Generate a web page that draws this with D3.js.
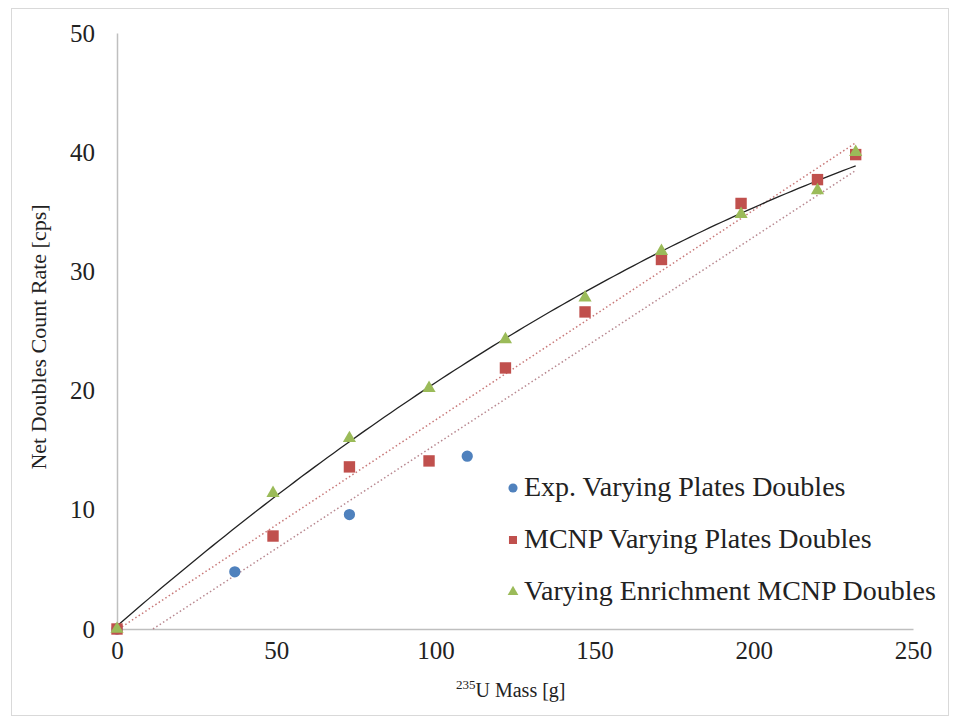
<!DOCTYPE html>
<html>
<head>
<meta charset="utf-8">
<script src="https://cdn.jsdelivr.net/npm/d3@7/dist/d3.min.js"></script>
<style>
  body { margin: 0; background: #fff; }
  svg text { font-family: "Liberation Serif", "Times New Roman", Times, "DejaVu Serif", serif; fill: #222; }
</style>
</head>
<body>
<svg id="chart" width="964" height="720"></svg>
<script>
// ---- data ----
const xTicks = [0, 50, 100, 150, 200, 250];
const yTicks = [0, 10, 20, 30, 40, 50];

const expMass   = [0, 37, 73, 110];
const expRate   = [0, 4.8, 9.6, 14.5];

const mcnpMass  = [0, 49, 73, 98, 122, 147, 171, 196, 220, 232];
const mcnpRate  = [0, 7.8, 13.6, 14.1, 21.9, 26.6, 31.0, 35.7, 37.7, 39.8];

const enrMass   = [0, 49, 73, 98, 122, 147, 171, 196, 220, 232];
const enrRate   = [0, 11.4, 16.0, 20.2, 24.3, 27.8, 31.7, 34.8, 36.8, 40.0];

// trendlines as shown in the picture: [intercept, slope, quadratic]
const polyTrend   = [0.25, 0.2327, -0.0002858];
const upperTrend  = [-0.09, 0.1762];
const lowerTrend  = [-1.97, 0.1743];
const trendXMax   = 232;

const legendLabels = ["Exp. Varying Plates Doubles", "MCNP Varying Plates Doubles", "Varying Enrichment MCNP Doubles"];
const colors = ["#4F81BD", "#C0504D", "#9BBB59"];

// ---- drawing ----
const FONT = "'Liberation Serif', 'Times New Roman', Times, 'DejaVu Serif', serif";
const svg = d3.select("#chart");
const x = d3.scaleLinear().domain([0, 250]).range([117, 913]);
const y = d3.scaleLinear().domain([0, 50]).range([629, 33]);

// outer border
svg.append("rect").attr("x", 11.5).attr("y", 8.5).attr("width", 937).attr("height", 707)
  .attr("fill", "#fff").attr("stroke", "#d9d9d9").attr("stroke-width", 1);

// axes
const xAxis = d3.axisBottom(x).tickValues(xTicks).tickSize(0).tickPadding(12);
const yAxis = d3.axisLeft(y).tickValues(yTicks).tickSize(0).tickPadding(22);

const gx = svg.append("g").attr("transform", `translate(0,${y(0)})`).call(xAxis);
const gy = svg.append("g").attr("transform", `translate(${x(0)},0)`).call(yAxis);
[gx, gy].forEach(g => {
  g.attr("font-family", FONT).attr("font-size", 25);
  g.select(".domain").attr("stroke", "#bfbfbf").attr("stroke-width", 1.5);
  g.selectAll("text").style("font-family", FONT).attr("font-size", 25).attr("fill", "#222");
});
gx.selectAll("text").attr("dy", "0.71em");

// trendlines
const line = d3.line().x(d => x(d[0])).y(d => y(d[1]));
function linPts(c) {
  const x0 = Math.max(0, -c[0] / c[1]);
  return [[x0, c[0] + c[1] * x0], [trendXMax, c[0] + c[1] * trendXMax]];
}
svg.append("path").datum(linPts(upperTrend)).attr("d", line)
  .attr("fill", "none").attr("stroke", "#c87878").attr("stroke-width", 1.5).attr("stroke-dasharray", "1.5,2.5");
svg.append("path").datum(linPts(lowerTrend)).attr("d", line)
  .attr("fill", "none").attr("stroke", "#b88890").attr("stroke-width", 1.5).attr("stroke-dasharray", "1.5,2.5");

const polyPts = d3.range(0, trendXMax + 0.01, 2).map(m => [m, polyTrend[0] + polyTrend[1] * m + polyTrend[2] * m * m]);
svg.append("path").datum(polyPts).attr("d", line)
  .attr("fill", "none").attr("stroke", "#222").attr("stroke-width", 1.3);

// markers
const sym = [d3.symbolCircle, d3.symbolSquare, d3.symbolTriangle];
const symSize = [100, 130, 75];
const series = [
  d3.zip(expMass, expRate),
  d3.zip(mcnpMass, mcnpRate),
  d3.zip(enrMass, enrRate)
];
series.forEach((data, i) => {
  svg.append("g").selectAll("path").data(data).join("path")
    .attr("d", d3.symbol().type(sym[i]).size(symSize[i]))
    .attr("transform", d => `translate(${x(d[0])},${y(d[1])})`)
    .attr("fill", colors[i]);
});

// legend
const legY = [488, 540, 592];
legendLabels.forEach((lab, i) => {
  svg.append("path").attr("d", d3.symbol().type(sym[i]).size(i === 2 ? 50 : 65)())
    .attr("transform", `translate(513,${legY[i]})`).attr("fill", colors[i]);
  svg.append("text").attr("x", 524).attr("y", legY[i] + 8).attr("font-size", 28)
    .style("font-family", FONT).text(lab);
});

// axis titles
svg.append("text").attr("transform", "translate(46,337) rotate(-90)")
  .attr("text-anchor", "middle").attr("font-size", 22).style("font-family", FONT)
  .text("Net Doubles Count Rate [cps]");

const xt = svg.append("text").attr("x", 456).attr("y", 697).attr("text-anchor", "start")
  .attr("font-size", 20).style("font-family", FONT);
xt.append("tspan").attr("font-size", 13).attr("dy", -8).text("235");
xt.append("tspan").attr("dy", 8).text("U Mass [g]");
</script>
</body>
</html>
